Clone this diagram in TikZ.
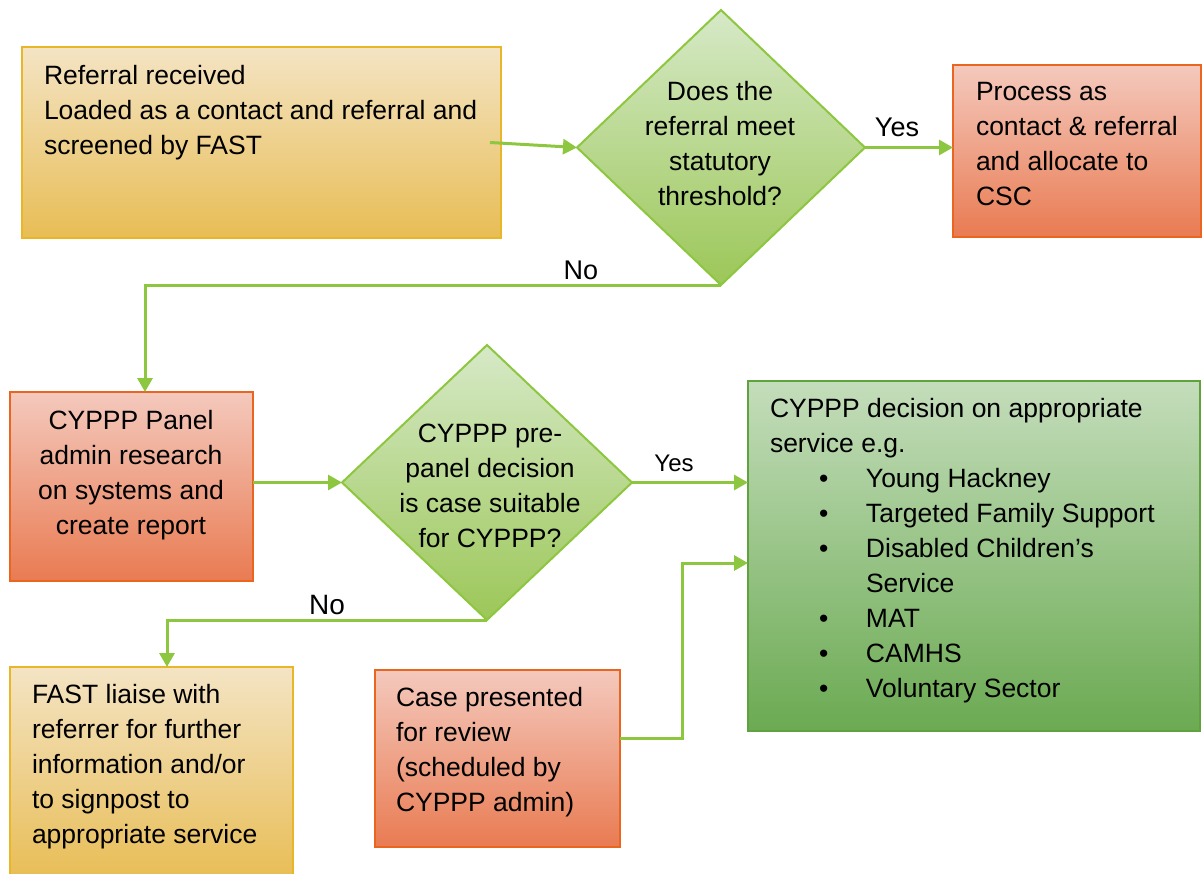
\documentclass[tikz,border=0pt]{standalone}
\usepackage{fontspec}
\setmainfont{Liberation Sans}
\usetikzlibrary{shapes.geometric,arrows.meta}
\definecolor{goldT}{HTML}{F4E4C4}
\definecolor{goldD}{HTML}{E8BD55}
\definecolor{goldB}{HTML}{E9B627}
\definecolor{orT}{HTML}{F4C9BD}
\definecolor{orD}{HTML}{E97B52}
\definecolor{orB}{HTML}{EA6520}
\definecolor{diaT}{HTML}{D6E9C7}
\definecolor{diaD}{HTML}{9CC758}
\definecolor{diaB}{HTML}{8DC63F}
\definecolor{grT}{HTML}{C4DDBB}
\definecolor{grD}{HTML}{6BAA52}
\definecolor{grB}{HTML}{5FA23E}
\definecolor{lineG}{HTML}{8DC63F}
\begin{document}
\begin{tikzpicture}[x=1pt,y=-1pt,
  box/.style={draw, line width=2.5pt, inner sep=0pt, outer sep=0pt},
  goldbox/.style={box, draw=goldB, top color=goldT, bottom color=goldD},
  orbox/.style={box, draw=orB, top color=orT, bottom color=orD},
  grbox/.style={box, draw=grB, top color=grT, bottom color=grD},
  dia/.style={diamond, draw=diaB, line width=2pt, top color=diaT, bottom color=diaD, inner sep=0pt, outer sep=0pt},
  txt/.style={inner sep=0pt, outer sep=0pt, font=\fontsize{26.5}{35}\selectfont, align=left},
  lbl/.style={inner sep=0pt, font=\fontsize{27}{30}\selectfont},
  conn/.style={draw=lineG, line width=3pt, -{Triangle[length=14pt,width=15pt]}}
]
\useasboundingbox (0,0) rectangle (1202,873);
\clip (0,0) rectangle (1202,873);

% boxes
\node[goldbox, minimum width=479pt, minimum height=191pt] (A) at (261.5,142.5) {};
\node[dia, minimum width=288pt, minimum height=275pt] (D1) at (721,147.5) {};
\node[orbox, minimum width=248pt, minimum height=172pt] (B) at (1077,151) {};
\node[orbox, minimum width=243pt, minimum height=189pt] (C) at (131.5,486.5) {};
\node[dia, minimum width=290pt, minimum height=275pt] (D2) at (487,482.5) {};
\node[grbox, minimum width=452pt, minimum height=350pt] (E) at (974,556) {};
\node[goldbox, minimum width=283pt, minimum height=213pt] (F) at (151.5,773.5) {};
\node[orbox, minimum width=245pt, minimum height=177pt] (G) at (497.5,758.5) {};

% texts
\node[txt, anchor=north west] (At) at (44,65) {Referral received\\Loaded as a contact and referral and\\screened by FAST};
\node[txt, align=center, anchor=north] (D1t) at (720,81) {Does the\\referral meet\\statutory\\threshold?};
\node[txt, anchor=north west] (Bt) at (976,82) {Process as\\contact \& referral\\and allocate to\\CSC};
\node[txt, align=center, anchor=north] (Ct) at (131,410) {CYPPP Panel\\admin research\\on systems and\\create report};
\node[txt, align=center, anchor=north] (D2t) at (490,424) {CYPPP pre-\\panel decision\\is case suitable\\for CYPPP?};
\node[txt, anchor=north west] (Et) at (770,398) {CYPPP decision on appropriate\\service e.g.\\
\hspace*{49pt}\makebox[47pt][l]{\textbullet}Young Hackney\\
\hspace*{49pt}\makebox[47pt][l]{\textbullet}Targeted Family Support\\
\hspace*{49pt}\makebox[47pt][l]{\textbullet}Disabled Children’s\\
\hspace*{96pt}Service\\
\hspace*{49pt}\makebox[47pt][l]{\textbullet}MAT\\
\hspace*{49pt}\makebox[47pt][l]{\textbullet}CAMHS\\
\hspace*{49pt}\makebox[47pt][l]{\textbullet}Voluntary Sector};
\node[txt, anchor=north west] (Ft) at (32,684) {FAST liaise with\\referrer for further\\information and/or\\to signpost to\\appropriate service};
\node[txt, anchor=north west] (Gt) at (396,687) {Case presented\\for review\\(scheduled by\\CYPPP admin)};

% labels
\node[lbl] (y1) at (897,127) {Yes};
\node[lbl] (n1) at (581,270) {No};
\node[lbl, font=\fontsize{24}{26}\selectfont] (y2) at (674,463) {Yes};
\node[lbl, font=\fontsize{28}{30}\selectfont] (n2) at (327,605) {No};

% connectors
\draw[conn] ([xshift=-11pt]A.east) -- (D1.west);
\draw[conn] (D1.east) -- (D1.east -| B.west);
\draw[conn] (D1.south) -| ([xshift=13.5pt]C.north);
\draw[conn] (C.east |- D2.west) -- (D2.west);
\draw[conn] (D2.east) -- (D2.east -| E.west);
\draw[conn] (D2.south) -| ([xshift=15.5pt]F.north);
\draw[conn] ([yshift=20.5pt]G.east) -- ++(62,0) |- ([yshift=-7pt]E.west);
\end{tikzpicture}
\end{document}
